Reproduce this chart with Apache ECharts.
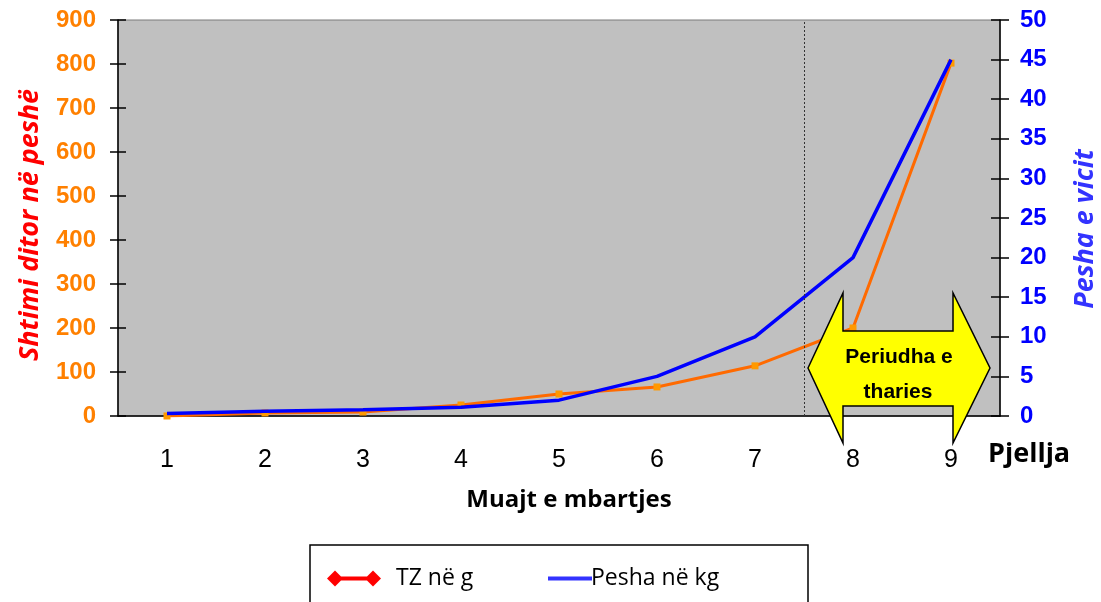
<!DOCTYPE html>
<html>
<head>
<meta charset="utf-8">
<script src="https://cdn.jsdelivr.net/npm/echarts@6/dist/echarts.min.js"></script>
<style>
html,body{margin:0;padding:0;background:#fff;}
#chart{width:1101px;height:602px;}
</style>
</head>
<body>
<div id="chart"></div>
<script>
// muajt (kategorite e boshtit x)
var muajt = ['1', '2', '3', '4', '5', '6', '7', '8', '9'];
// shtimi ditor ne peshe, g (boshti majtas)
var tzNeG = [0, 7, 9, 25, 50, 66, 114, 200, 802];
// pesha e vicit, kg (boshti djathtas)
var peshaNeKg = [0.3, 0.6, 0.8, 1.1, 2, 5, 10, 20, 45];
// kufiri i periudhes se tharjes (midis muajit 7 dhe 8)
var kufiriTharjes = [7.5];

var chart = echarts.init(document.getElementById('chart'));

var numFont = 'Liberation Sans, Arial, sans-serif';
var txtFont = 'Open Sans, Noto Sans, sans-serif';

var option = {
    animation: false,
    title: [{
        text: 'Pjellja',
        left: 983,
        top: 436,
        textStyle: {fontFamily: txtFont, fontWeight: 'bold', fontSize: 27, color: '#000'}
    }],
    grid: {
        left: 118, right: 101, top: 20, bottom: 186,
        containLabel: false,
        outerBoundsMode: 'none',
        show: true,
        backgroundColor: '#C0C0C0',
        borderColor: '#7a7a7a',
        borderWidth: 1
    },
    legend: [{
        left: 322, top: 562,
        itemWidth: 54, itemHeight: 16,
        textStyle: {fontFamily: txtFont, fontSize: 23, color: '#000', padding: [0, 0, 0, 10]},
        data: [{
            name: 'TZ në g',
            icon: 'path://M0 8 L8 0 L16 8 L8 16 Z M38 8 L46 0 L54 8 L46 16 Z M12 6 H42 V10 H12 Z',
            itemStyle: {color: '#FF0000'}
        }]
    }, {
        left: 543, top: 562,
        itemWidth: 44, itemHeight: 4,
        textStyle: {fontFamily: txtFont, fontSize: 23, color: '#000', padding: [0, 0, 0, -6]},
        data: [{name: 'Pesha në kg', icon: 'rect', itemStyle: {color: '#3333FF'}}]
    }],
    xAxis: [{
        type: 'category',
        data: muajt,
        position: 'bottom',
        boundaryGap: true,
        name: 'Muajt e mbartjes',
        nameLocation: 'middle',
        nameGap: 72,
        nameTextStyle: {fontFamily: txtFont, fontWeight: 'bold', fontSize: 24, color: '#000', padding: [0, 0, 0, 20]},
        axisLine: {lineStyle: {color: '#000', width: 1.5}},
        axisTick: {length: 10, lineStyle: {color: '#000', width: 1.5}},
        axisLabel: {margin: 32, fontFamily: numFont, fontSize: 25, color: '#000'},
        splitLine: {show: false}
    }, {
        type: 'category',
        data: muajt,
        position: 'bottom',
        axisLine: {show: false},
        axisTick: {inside: true, length: 10, lineStyle: {color: '#000', width: 1.5}},
        axisLabel: {show: false},
        splitLine: {show: false}
    }, {
        type: 'value',
        show: false,
        min: 0.5,
        max: 9.5
    }],
    yAxis: [{
        type: 'value',
        position: 'left',
        min: 0, max: 900, interval: 100,
        name: 'Shtimi ditor në peshë',
        nameLocation: 'middle',
        nameRotate: 90,
        nameGap: 74,
        nameTextStyle: {fontFamily: txtFont, fontWeight: 'bold', fontStyle: 'italic', fontSize: 27, color: '#FF0000', padding: [0, 14, 0, 0]},
        axisLine: {show: true, lineStyle: {color: '#000', width: 1.5}},
        axisTick: {show: true, length: 8, lineStyle: {color: '#000', width: 1.5}},
        axisLabel: {margin: 22, fontFamily: numFont, fontWeight: 'bold', fontSize: 24, color: '#FF8000'},
        splitLine: {show: false}
    }, {
        type: 'value',
        position: 'right',
        min: 0, max: 50, interval: 5,
        name: 'Pesha e vicit',
        nameLocation: 'middle',
        nameRotate: 90,
        nameGap: 72,
        nameTextStyle: {fontFamily: txtFont, fontWeight: 'bold', fontStyle: 'italic', fontSize: 27, color: '#3333FF', padding: [0, 22, 0, 0]},
        axisLine: {show: true, lineStyle: {color: '#000', width: 1.5}},
        axisTick: {show: true, length: 9, lineStyle: {color: '#000', width: 1.5}},
        axisLabel: {margin: 20, fontFamily: numFont, fontWeight: 'bold', fontSize: 24, color: '#0000FF'},
        splitLine: {show: false}
    }, {
        type: 'value',
        position: 'left',
        min: 0, max: 900, interval: 100,
        axisLine: {show: false},
        axisTick: {show: true, inside: true, length: 8, lineStyle: {color: '#000', width: 1.5}},
        axisLabel: {show: false},
        splitLine: {show: false}
    }, {
        type: 'value',
        position: 'right',
        min: 0, max: 50, interval: 5,
        axisLine: {show: false},
        axisTick: {show: true, inside: true, length: 9, lineStyle: {color: '#000', width: 1.5}},
        axisLabel: {show: false},
        splitLine: {show: false}
    }],
    series: [{
        name: 'TZ në g',
        type: 'line',
        xAxisIndex: 0,
        yAxisIndex: 0,
        data: tzNeG,
        symbol: 'rect',
        symbolSize: 7,
        lineStyle: {color: '#FF6A00', width: 3},
        itemStyle: {color: '#FF9900'},
        z: 3
    }, {
        name: 'Pesha në kg',
        type: 'line',
        xAxisIndex: 0,
        yAxisIndex: 1,
        data: peshaNeKg,
        symbol: 'none',
        lineStyle: {color: '#0000FF', width: 3.5},
        itemStyle: {color: '#0000FF'},
        z: 4
    }, {
        name: 'kufiri',
        type: 'line',
        xAxisIndex: 2,
        yAxisIndex: 0,
        data: [],
        markLine: {
            silent: true,
            symbol: 'none',
            label: {show: false},
            lineStyle: {color: '#333', width: 1, type: [2, 2]},
            data: kufiriTharjes.map(function (v) { return {xAxis: v}; })
        }
    }],
    graphic: [{
        type: 'polygon',
        z: 100,
        shape: {points: [[808, 368], [843, 293], [843, 331], [953, 331], [953, 293], [990, 368],
                         [953, 443], [953, 406], [843, 406], [843, 443]]},
        style: {fill: '#FFFF00', stroke: '#000', lineWidth: 1.5}
    }, {
        type: 'text',
        z: 101,
        x: 899, y: 357,
        style: {
            text: 'Periudha e',
            fontFamily: 'Liberation Sans Narrow, Liberation Sans, sans-serif',
            fontWeight: 'bold',
            fontSize: 21,
            align: 'center',
            verticalAlign: 'middle',
            fill: '#000'
        }
    }, {
        type: 'text',
        z: 101,
        x: 898, y: 392,
        style: {
            text: 'tharies',
            fontFamily: 'Liberation Sans Narrow, Liberation Sans, sans-serif',
            fontWeight: 'bold',
            fontSize: 21,
            align: 'center',
            verticalAlign: 'middle',
            fill: '#000'
        }
    }, {
        type: 'rect',
        z: -1,
        shape: {x: 310, y: 545, width: 498, height: 80},
        style: {fill: '#fff', stroke: '#000', lineWidth: 1.5}
    }]
};

chart.setOption(option);
</script>
</body>
</html>
